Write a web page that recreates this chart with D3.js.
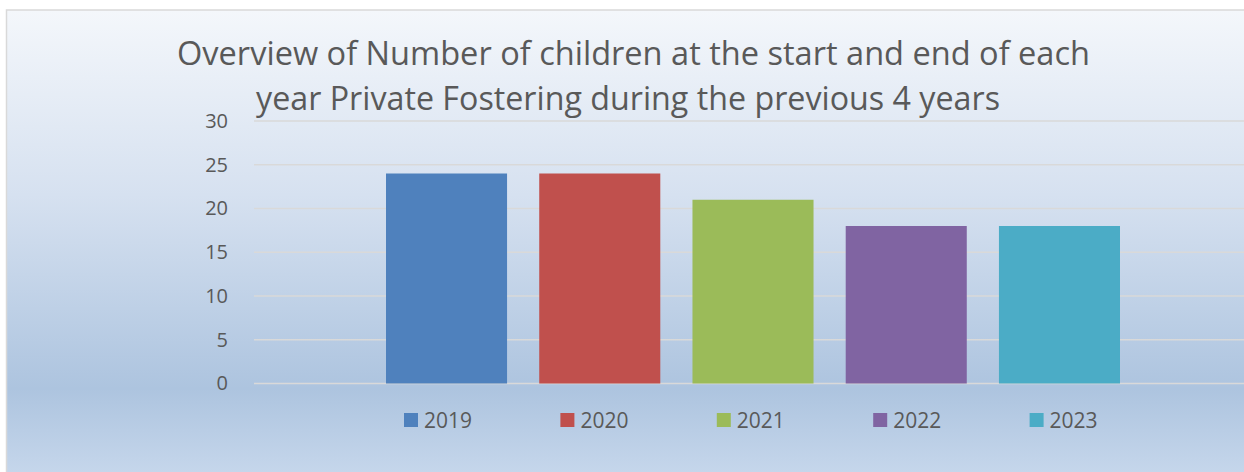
<!DOCTYPE html>

<head>
    <title>Private Fostering overview</title>
    <meta charset="utf-8" />
</head>

<style>
    body {
        margin: 0;
        background-color: #FFFFFF;
    }

    text {
        font-family: "Open Sans", sans-serif;
        fill: #595959;
    }

    .grid line {
        stroke: #D9D9D9;
        stroke-width: 1.5px;
    }

    .y.axis path,
    .y.axis line {
        display: none;
    }
</style>

<body>
    <svg id="chart" width="1244" height="472"></svg>
    <script src="https://d3js.org/d3.v7.min.js"></script>

    <script>
        // data
        var years = ["2019", "2020", "2021", "2022", "2023"];
        var children = [24, 24, 21, 18, 18];
        var colours = ["#4F81BD", "#C0504D", "#9BBB59", "#8064A2", "#4BACC6"];
        var yTicks = [0, 5, 10, 15, 20, 25, 30];
        var titleLines = [
            "Overview of Number of children at the start and end of each",
            "year Private Fostering during the previous 4 years"
        ];

        var svg = d3.select("#chart");

        // chart area background (light office gradient)
        var grad = svg.append("defs").append("linearGradient")
            .attr("id", "bg")
            .attr("gradientUnits", "userSpaceOnUse")
            .attr("x1", 0).attr("y1", 10)
            .attr("x2", 0).attr("y2", 472);

        [[0, "#F4F7FB"], [0.4, "#D6E1F0"], [0.82, "#ADC4DF"], [1, "#C5D6EB"]].forEach(function(s) {
            grad.append("stop").attr("offset", s[0]).attr("stop-color", s[1]);
        });

        svg.append("rect")
            .attr("x", 6.5)
            .attr("y", 10)
            .attr("width", 1300)
            .attr("height", 520)
            .attr("fill", "url(#bg)")
            .attr("stroke", "#D9D9D9")
            .attr("stroke-width", 1.5);

        var plot = { left: 254, right: 1250, top: 121, bottom: 383.5 };

        var y = d3.scaleLinear()
            .domain([0, 30])
            .range([plot.bottom, plot.top]);

        var x = d3.scaleBand()
            .domain(years)
            .range([386, 1120])
            .paddingInner(0.21)
            .paddingOuter(0);

        // gridlines
        svg.append("g")
            .attr("class", "grid")
            .selectAll("line")
            .data(yTicks)
            .enter().append("line")
            .attr("x1", plot.left)
            .attr("x2", plot.right)
            .attr("y1", function(d) { return y(d); })
            .attr("y2", function(d) { return y(d); });

        // y axis labels
        var yAxis = d3.axisLeft(y).tickValues(yTicks).tickSize(0).tickPadding(0);

        var yG = svg.append("g")
            .attr("class", "y axis")
            .attr("transform", "translate(228,0)")
            .call(yAxis);

        yG.selectAll("text")
            .attr("font-size", "20px")
            .attr("fill", "#595959")
            .attr("font-family", "Open Sans");

        // bars
        svg.selectAll(".bar")
            .data(children)
            .enter().append("rect")
            .attr("class", "bar")
            .attr("x", function(d, i) { return x(years[i]); })
            .attr("width", x.bandwidth())
            .attr("y", function(d) { return y(d); })
            .attr("height", function(d) { return y(0) - y(d); })
            .attr("fill", function(d, i) { return colours[i]; });

        // title
        var titleX = [177, 256],
            titleW = [913, 744],
            titleY = [65, 110];

        svg.selectAll(".title")
            .data(titleLines)
            .enter().append("text")
            .attr("class", "title")
            .attr("x", function(d, i) { return titleX[i]; })
            .attr("y", function(d, i) { return titleY[i]; })
            .attr("font-size", "32px")
            .attr("textLength", function(d, i) { return titleW[i]; })
            .attr("lengthAdjust", "spacingAndGlyphs")
            .text(function(d) { return d; });

        // legend
        var legend = d3.scaleBand()
            .domain(years)
            .range([404, 1186]);

        var item = svg.selectAll(".legend")
            .data(years)
            .enter().append("g")
            .attr("class", "legend")
            .attr("transform", function(d) { return "translate(" + legend(d) + ",413)"; });

        item.append("rect")
            .attr("width", 14)
            .attr("height", 14)
            .attr("fill", function(d, i) { return colours[i]; });

        item.append("text")
            .attr("x", 20)
            .attr("y", 14.5)
            .attr("font-size", "21px")
            .text(function(d) { return d; });
    </script>

</body>
